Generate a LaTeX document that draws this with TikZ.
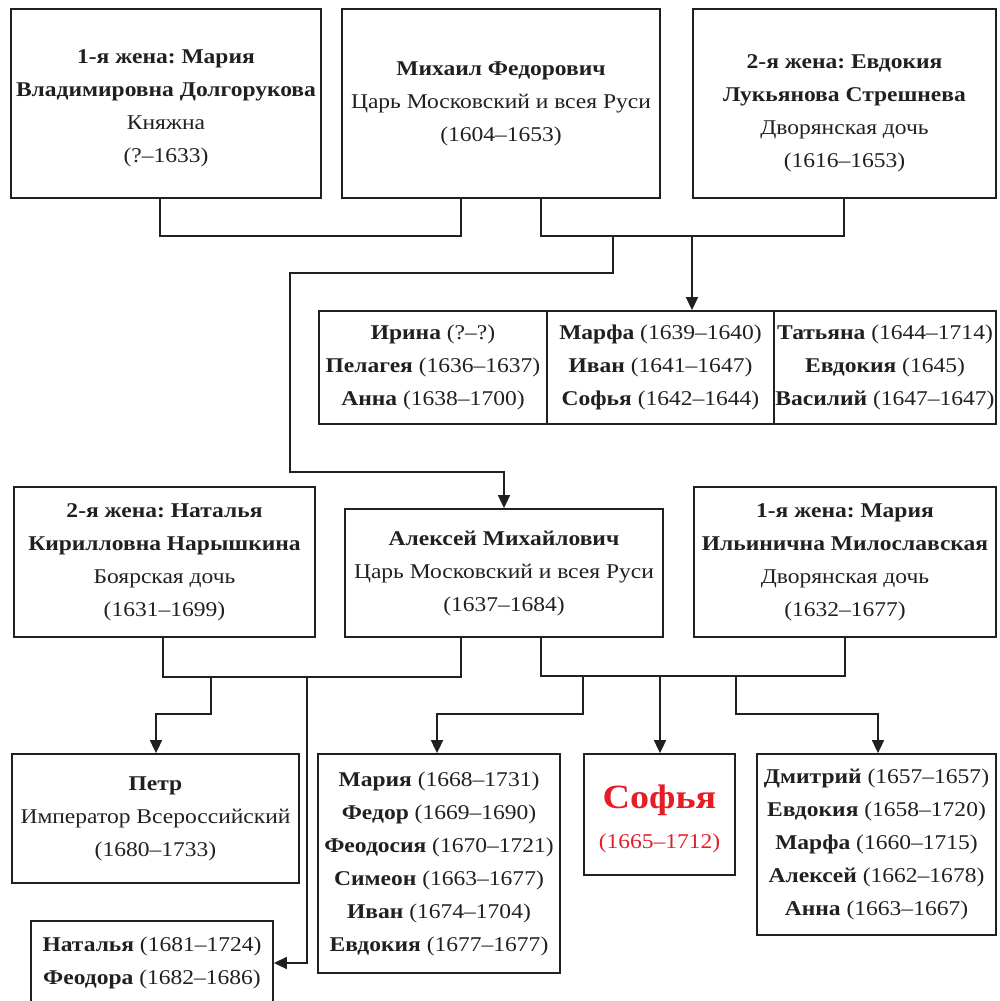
\documentclass[tikz,border=0pt]{standalone}
\usepackage{fontspec}
\setmainfont{Liberation Serif}[FakeStretch=1.12]
\frenchspacing
\usetikzlibrary{arrows.meta}
\definecolor{ink}{RGB}{35,31,32}
\definecolor{sofred}{RGB}{228,30,38}
\begin{document}
\begin{tikzpicture}[x=1pt, y=-1pt, >={Triangle[length=13pt,width=12pt]},
    ink, line width=1.7pt,
    boxtext/.style={inner sep=0pt, align=center, text=ink,
        font=\fontsize{21}{33}\selectfont},
    box/.style={boxtext, draw, line width=1.8pt},
    ]
\useasboundingbox (0,0) rectangle (999,1001);

\node[box, minimum width=310pt, minimum height=189pt,
    label={[boxtext, yshift=-5pt]center:{\textbf{1-я жена: Мария}\\\textbf{Владимировна Долгорукова}\\Княжна\\(?–1633)}}]
    (A) at (166,103.5) {};
\node[box, minimum width=318pt, minimum height=189pt] (B) at (501,103.5)
    {\textbf{Михаил Федорович}\\Царь Московский и всея Руси\\(1604–1653)};
\node[box, minimum width=303pt, minimum height=189pt,
    label={[boxtext, yshift=-10pt]center:{\textbf{2-я жена: Евдокия}\\\textbf{Лукьянова Стрешнева}\\Дворянская дочь\\(1616–1653)}}]
    (C) at (844.5,103.5) {};

\node[box, minimum width=228pt, minimum height=113pt] (T1) at (433,367.5)
    {\textbf{Ирина} (?–?)\\\textbf{Пелагея} (1636–1637)\\\textbf{Анна} (1638–1700)};
\node[box, minimum width=227pt, minimum height=113pt] (T2) at (660.5,367.5)
    {\textbf{Марфа} (1639–1640)\\\textbf{Иван} (1641–1647)\\\textbf{Софья} (1642–1644)};
\node[box, minimum width=222pt, minimum height=113pt] (T3) at (885,367.5)
    {\textbf{Татьяна} (1644–1714)\\\textbf{Евдокия} (1645)\\\textbf{Василий} (1647–1647)};

\node[box, minimum width=301pt, minimum height=150pt] (D) at (164.5,562)
    {\textbf{2-я жена: Наталья}\\\textbf{Кирилловна Нарышкина}\\Боярская дочь\\(1631–1699)};
\node[box, minimum width=318pt, minimum height=128pt] (E) at (504,573)
    {\textbf{Алексей Михайлович}\\Царь Московский и всея Руси\\(1637–1684)};
\node[box, minimum width=302pt, minimum height=150pt] (F) at (845,562)
    {\textbf{1-я жена: Мария}\\\textbf{Ильинична Милославская}\\Дворянская дочь\\(1632–1677)};

\node[box, minimum width=287pt, minimum height=129pt] (P) at (155.5,818.5)
    {\textbf{Петр}\\Император Всероссийский\\(1680–1733)};
\node[box, minimum width=242pt, minimum height=84pt] (N) at (152,963)
    {\textbf{Наталья} (1681–1724)\\\textbf{Феодора} (1682–1686)};
\node[box, minimum width=242pt, minimum height=219pt] (K) at (439,863.5)
    {\textbf{Мария} (1668–1731)\\\textbf{Федор} (1669–1690)\\\textbf{Феодосия} (1670–1721)\\
     \textbf{Симеон} (1663–1677)\\\textbf{Иван} (1674–1704)\\\textbf{Евдокия} (1677–1677)};
\node[box, minimum width=151pt, minimum height=121pt,
    label={[boxtext, text=sofred, font=\fontsize{21}{40}\selectfont, yshift=-4pt]center:{{\fontsize{34}{40}\selectfont\textbf{Софья}}\\(1665–1712)}}]
    (S) at (659.5,814.5) {};
\node[box, minimum width=239pt, minimum height=181pt] (R) at (876.5,844.5)
    {\textbf{Дмитрий} (1657–1657)\\\textbf{Евдокия} (1658–1720)\\\textbf{Марфа} (1660–1715)\\
     \textbf{Алексей} (1662–1678)\\\textbf{Анна} (1663–1667)};

\coordinate (ab1) at (160,236);
\coordinate (ab2) at (461,236);
\coordinate (bc1) at (541,236);
\coordinate (bc2) at (844,236);
\draw (A.south -| ab1) -- (ab1) -- (ab2) -- (B.south -| ab2);
\draw (B.south -| bc1) -- (bc1) -- (bc2) -- (C.south -| bc2);
\coordinate (s1) at (613,236);
\coordinate (s2) at (692,236);
\coordinate (t) at (290,273);
\coordinate (u) at (504,472);
\draw[->] (s1) |- (t) |- (u) -- (E.north -| u);
\draw[->] (s2) -- (T2.north -| s2);

\coordinate (de1) at (163,677);
\coordinate (de2) at (461,677);
\coordinate (ef1) at (541,676);
\coordinate (ef2) at (845,676);
\draw (D.south -| de1) -- (de1) -- (de2) -- (E.south -| de2);
\draw (E.south -| ef1) -- (ef1) -- (ef2) -- (F.south -| ef2);
\coordinate (d1) at (211,677);
\coordinate (d2) at (307,677);
\coordinate (p) at (156,714);
\draw[->] (d1) |- (p) -- (P.north -| p);
\draw[->] (d2) |- (N.east);
\coordinate (e1) at (583,676);
\coordinate (e2) at (660,676);
\coordinate (e3) at (736,676);
\coordinate (k) at (437,714);
\coordinate (r) at (878,714);
\draw[->] (e1) |- (k) -- (K.north -| k);
\draw[->] (e2) -- (S.north -| e2);
\draw[->] (e3) |- (r) -- (R.north -| r);

\end{tikzpicture}
\end{document}
